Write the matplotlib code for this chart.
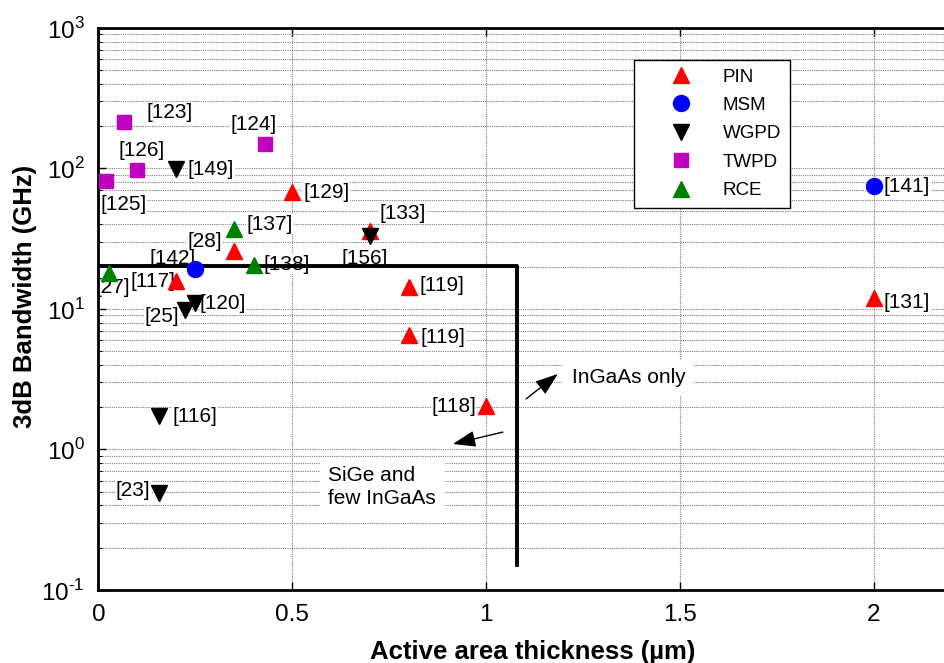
"""
3dB bandwidth vs active area thickness for photodetectors
"""

import numpy as np
import matplotlib.pyplot as plt

plt.rcParams['font.family'] = ['Liberation Sans', 'DejaVu Sans']
plt.rcParams['mathtext.fontset'] = 'custom'
plt.rcParams['mathtext.rm'] = 'Liberation Sans'
plt.rcParams['axes.unicode_minus'] = False

# Data (thickness in um, bandwidth in GHz)
pin_x = [0.5, 0.7, 0.35, 0.2, 0.8, 0.8, 1.0, 2.0]
pin_y = [68, 36, 26, 15.8, 14.3, 6.5, 2.05, 12.0]
pin_refs = ['[129]', '[133]', '[28]', '[117]', '[119]', '[119]', '[118]', '[131]']

msm_x = [0.25, 2.0]
msm_y = [19.3, 75]
msm_refs = ['[142]', '[141]']

wgpd_x = [0.2, 0.7, 0.25, 0.223, 0.155, 0.155]
wgpd_y = [99, 33, 11.0, 9.8, 1.73, 0.49]
wgpd_refs = ['[149]', '[156]', '[120]', '[25]', '[116]', '[23]']

twpd_x = [0.066, 0.1, 0.02, 0.43]
twpd_y = [215, 98, 81, 150]
twpd_refs = ['[123]', '[126]', '[125]', '[124]']

rce_x = [0.027, 0.35, 0.4]
rce_y = [17.9, 37, 20.5]
rce_refs = ['[27]', '[137]', '[138]']

# boundary between SiGe and InGaAs-only regions
bound_x = [0, 1.08, 1.08]
bound_y = [20.3, 20.3, 0.15]

xticks = [0, 0.5, 1, 1.5, 2]
xtick_labels = ['0', '0.5', '1', '1.5', '2']
yticks = [0.1, 1, 10, 100, 1000]
ytick_exps = ['-1', '0', '1', '2', '3']

# label offsets (pixels, left edge of text relative to marker)
pin_off = [(11, 0), (10, 17), (-47, 9), (-45, 0), (11, 2), (12, -2), (-55, -1), (10, -5)]
msm_off = [(-46, 10), (10, 0)]
wgpd_off = [(12, 0), (-28, -22), (4, 0), (-40, -6), (14, 0), (-43, 3)]
twpd_off = [(22, 9), (-19, 19), (-6, -23), (-35, 19)]
rce_off = [(-13, -14), (12, 5), (10, 1)]

fig = plt.figure(figsize=(9.44, 6.63), dpi=100)
ax = fig.add_axes([0.1043, 0.1101, 0.8957, 0.8477])

ax.set_yscale('log')
ax.set_xlim(0, 2.181)
ax.set_ylim(0.1, 1000)

series = [
    (pin_x, pin_y, pin_refs, pin_off, 'PIN', '^', 'r', 12),
    (msm_x, msm_y, msm_refs, msm_off, 'MSM', 'o', 'b', 11.5),
    (wgpd_x, wgpd_y, wgpd_refs, wgpd_off, 'WGPD', 'v', 'k', 11.5),
    (twpd_x, twpd_y, twpd_refs, twpd_off, 'TWPD', 's', 'm', 9.5),
    (rce_x, rce_y, rce_refs, rce_off, 'RCE', '^', 'g', 12),
]

for xs, ys, refs, offs, name, mk, col, ms in series:
    ax.plot(xs, ys, linestyle='none', marker=mk, color=col, markersize=ms,
            markeredgecolor=col, label=name, zorder=4)
    for x, y, ref, (dx, dy) in zip(xs, ys, refs, offs):
        ax.annotate(ref, (x, y), xytext=(dx, dy), textcoords='offset pixels',
                    ha='left', va='center', fontsize=15, zorder=2.5,
                    bbox=dict(facecolor='white', edgecolor='none', pad=0.3))

ax.plot(bound_x, bound_y, color='k', linewidth=2.8, zorder=3)

# region annotations
arrow_style = dict(arrowstyle='-|>,head_length=1.4,head_width=0.5',
                   color='k', lw=1, shrinkA=0, shrinkB=0)
ax.text(1.221, 3.25, 'InGaAs only', fontsize=15, ha='left', va='center', zorder=2.5,
        bbox=dict(facecolor='white', edgecolor='none', pad=6))
ax.annotate('', xy=(1.185, 3.45), xytext=(1.103, 2.29),
            arrowprops=arrow_style, zorder=3)
ax.text(0.592, 0.54, 'SiGe and\nfew InGaAs', fontsize=15, ha='left', va='center',
        linespacing=1.25, zorder=2.5,
        bbox=dict(facecolor='white', edgecolor='none', pad=6))
ax.annotate('', xy=(0.914, 1.094), xytext=(1.043, 1.33),
            arrowprops=arrow_style, zorder=3)

# axes styling
ax.set_xticks(xticks)
ax.set_xticklabels(xtick_labels)
ax.set_yticks(yticks)
ax.set_yticklabels([r'$10^{\text{%s}}$' % e for e in ytick_exps])
ax.grid(True, which='major', color='#808080', linestyle=(0, (1, 1)), linewidth=0.8)
ax.grid(True, which='minor', axis='y', color='#808080', linestyle=(0, (1, 1)), linewidth=0.8)
ax.tick_params(which='both', direction='in', top=True, right=False, labelsize=17.5)
ax.tick_params(which='major', length=6, width=1)
ax.tick_params(which='minor', length=3, width=0.8)
ax.tick_params(axis='y', pad=10)
ax.tick_params(axis='x', pad=10)
for side in ['left', 'bottom', 'top']:
    ax.spines[side].set_linewidth(2)
ax.spines['right'].set_visible(False)

ax.set_xlabel('Active area thickness (\u00b5m)', fontsize=18.5, fontweight='bold')
ax.set_ylabel('3dB Bandwidth (GHz)', fontsize=18.5, fontweight='bold')
ax.xaxis.label.set_va('baseline')
ax.xaxis.set_label_coords(0.514, -0.122)
ax.yaxis.set_label_coords(-0.073, 0.522)

leg = ax.legend(loc='upper left', bbox_to_anchor=(0.633, 0.943), fontsize=13.5,
                fancybox=False, framealpha=1, edgecolor='k', handlelength=4.2,
                handletextpad=0.1, labelspacing=0.6, borderpad=0.45,
                borderaxespad=0)
leg.get_frame().set_linewidth(1)

plt.savefig('out.png', dpi=100)
plt.close()
